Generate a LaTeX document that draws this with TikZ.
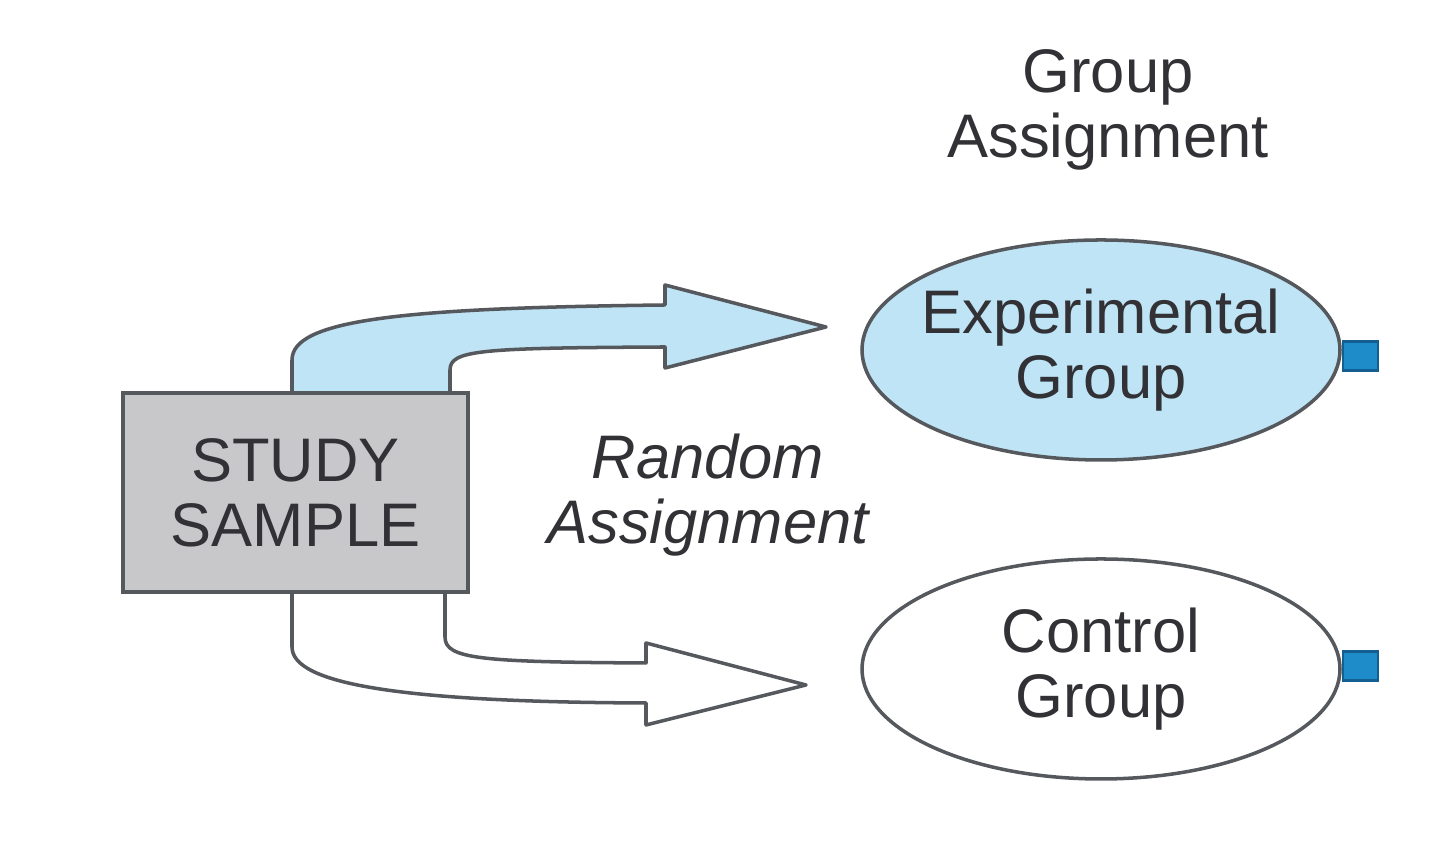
\documentclass[tikz,border=0pt]{standalone}
\usepackage{fontspec}
\setmainfont{Liberation Sans}
\usepackage{tikz}
\usetikzlibrary{shapes.geometric,backgrounds,positioning}
\definecolor{figline}{RGB}{85,88,92}
\definecolor{figtext}{RGB}{50,50,54}
\definecolor{figbox}{RGB}{200,200,203}
\definecolor{figsky}{RGB}{190,228,246}
\definecolor{figport}{RGB}{30,140,200}
\definecolor{figportdark}{RGB}{20,95,145}
\tikzset{
  gnode/.style={draw=figline,line width=1pt,align=center,text=figtext,
                font=\fontsize{17.5}{18.5}\selectfont,inner sep=0pt},
  samplebox/.style={gnode,rectangle,fill=figbox,line width=1.3pt,
                minimum width=3.45cm,minimum height=1.99cm},
  groupell/.style={gnode,ellipse,minimum width=4.78cm,minimum height=2.2cm,
                inner xsep=-0.3cm},
  gport/.style={rectangle,fill=figport,draw=figportdark,line width=0.6pt,
                minimum width=0.35cm,minimum height=0.29cm,inner sep=0pt},
  glabel/.style={align=center,text=figtext,font=\fontsize{17.5}{18.5}\selectfont},
  blockarrow/.style={draw=figline,line width=1pt,line join=round},
}
\begin{document}
\begin{tikzpicture}
    \useasboundingbox (0,0) rectangle (14.4,8.64);
    \node[samplebox] (sample) at (2.955,3.715) {STUDY\\SAMPLE};
    \node[groupell,fill=figsky] (exp) at (11.01,5.14) {Experimental\\Group};
    \node[groupell,fill=white] (ctrl) at (11.01,1.95) {Control\\Group};
    \node[gport,anchor=west] (expport) at ([yshift=-0.06cm]exp.east) {};
    \node[gport,anchor=west] (ctrlport) at ([yshift=0.03cm]ctrl.east) {};
    \node[glabel] (grouplab) at (11.08,7.54) {Group\\Assignment};
    \node[glabel,font=\fontsize{17.5}{18.5}\selectfont\itshape] (randlab) at (7.08,3.69) {Random\\Assignment};
    % block arrows go behind the box
    \begin{scope}[on background layer]
      \draw[blockarrow,fill=figsky] (2.92,4.71) -- (2.92,5.04)
          .. controls (2.92,5.44) and (4.0,5.56) .. (6.65,5.59)
          -- (6.65,5.79) -- (8.26,5.37) -- (6.65,4.96) -- (6.65,5.17)
          .. controls (4.8,5.16) and (4.50,5.14) .. (4.50,4.94)
          -- (4.50,4.71) -- cycle;
      \draw[blockarrow,fill=white] (2.92,2.72) -- (2.92,2.17)
          .. controls (2.92,1.80) and (4.0,1.62) .. (6.46,1.61)
          -- (6.46,1.39) -- (8.06,1.79) -- (6.46,2.21) -- (6.46,2.01)
          .. controls (4.8,2.02) and (4.45,2.05) .. (4.45,2.27)
          -- (4.45,2.72) -- cycle;
    \end{scope}
\end{tikzpicture}
\end{document}
